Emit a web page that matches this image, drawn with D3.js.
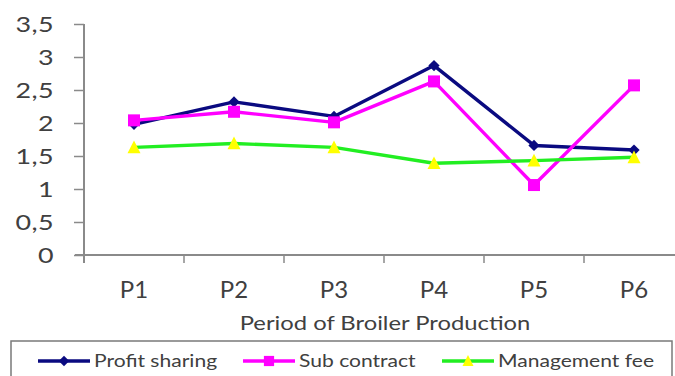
<!DOCTYPE html>
<html>
<head>
<meta charset="utf-8">
<script src="https://cdn.jsdelivr.net/npm/d3@7/dist/d3.min.js"></script>
<style>
  html, body { margin: 0; padding: 0; background: #fff; }
  svg { display: block; font-family: Lato, "Open Sans", sans-serif; }
</style>
</head>
<body>
<svg id="chart" width="675" height="376"></svg>
<script>
// Broiler production periods and the three partnership schemes
const periods = ["P1", "P2", "P3", "P4", "P5", "P6"];
const profitSharing = [1.98, 2.32, 2.10, 2.87, 1.66, 1.59];
const subContract = [2.04, 2.17, 2.01, 2.63, 1.06, 2.57];
const managementFee = [1.63, 1.69, 1.63, 1.39, 1.43, 1.48];
const yTicks = [0, 0.5, 1, 1.5, 2, 2.5, 3, 3.5];
const xTitle = "Period of Broiler Production";

const series = [
  { name: "Profit sharing", values: profitSharing, line: "#0a0a80", marker: "diamond", fill: "#0a0a80" },
  { name: "Sub contract", values: subContract, line: "#ff00ff", marker: "square", fill: "#ff00ff" },
  { name: "Management fee", values: managementFee, line: "#22ee22", marker: "triangle", fill: "#ffff00" }
];

const svg = d3.select("#chart");
const axisColor = "#8a8a8a";
const textColor = "#404040";

// text drawn with a slight horizontal stretch
function wideText(parent, px, py, str, size, sx, anchor, spacing) {
  return parent.append("text")
    .attr("transform", `translate(${px},${py}) scale(${sx},1)`)
    .attr("text-anchor", anchor).attr("fill", textColor)
    .attr("font-size", size).attr("letter-spacing", spacing || 0)
    .text(str);
}

const x = d3.scaleBand().domain(periods).range([84, 684]).padding(0);
const y = d3.scaleLinear().domain([0, 3.5]).range([255, 24]);

// y axis
const yAxis = svg.append("g").attr("transform", "translate(84,0)")
  .call(d3.axisLeft(y).tickValues(yTicks).tickSize(10).tickFormat(""));
yAxis.select(".domain").attr("d", "M0,24V263").attr("stroke", axisColor).attr("stroke-width", 2);
yAxis.selectAll(".tick line").attr("stroke", axisColor).attr("stroke-width", 1.5);
yTicks.forEach(v => {
  wideText(svg, 54, y(v) + 7.5, String(v).replace(".", ","), 21, 1.28, "end", 0.3);
});

// x axis: ticks at band boundaries
const xAxis = svg.append("g").attr("transform", "translate(0,255)");
xAxis.append("line").attr("x1", 75).attr("x2", 675).attr("y1", 0).attr("y2", 0)
  .attr("stroke", axisColor).attr("stroke-width", 2);
xAxis.selectAll("line.tk").data(periods.slice(1)).join("line").attr("class", "tk")
  .attr("x1", d => x(d)).attr("x2", d => x(d)).attr("y1", 0).attr("y2", 8)
  .attr("stroke", axisColor).attr("stroke-width", 1.5);
xAxis.selectAll("text").data(periods).join("text")
  .attr("x", d => x(d) + x.bandwidth() / 2).attr("y", 43)
  .attr("text-anchor", "middle").attr("fill", textColor).attr("font-size", 24)
  .text(d => d);

wideText(svg, 385, 330, xTitle, 20, 1.19, "middle");

// markers
function marker(g, type, fill, size) {
  if (type === "diamond") {
    g.append("path").attr("d", d3.symbol(d3.symbolDiamond2, size * 9)())
      .attr("fill", fill);
  } else if (type === "square") {
    g.append("rect").attr("x", -size / 2).attr("y", -size / 2)
      .attr("width", size).attr("height", size).attr("fill", fill);
  } else {
    const h = size * 0.9;
    g.append("path").attr("d", `M0,${-h / 2 - 1}L${size / 2},${h / 2}L${-size / 2},${h / 2}Z`)
      .attr("fill", fill);
  }
}
const markerSize = { diamond: 9, square: 12, triangle: 13 };

const line = d3.line().x((d, i) => x(periods[i]) + x.bandwidth() / 2).y(d => y(d));

series.forEach(s => {
  svg.append("path").datum(s.values).attr("d", line)
    .attr("fill", "none").attr("stroke", s.line).attr("stroke-width", 3.4)
    .attr("stroke-linejoin", "round");
});
series.forEach(s => {
  s.values.forEach((v, i) => {
    const g = svg.append("g")
      .attr("transform", `translate(${x(periods[i]) + x.bandwidth() / 2},${y(v)})`);
    marker(g, s.marker, s.fill, markerSize[s.marker]);
  });
});

// legend
svg.append("rect").attr("x", 11).attr("y", 341).attr("width", 661).attr("height", 40)
  .attr("fill", "#fff").attr("stroke", "#7a7a7a").attr("stroke-width", 1.5);
const legendX = [38, 243, 442];
series.forEach((s, i) => {
  const g = svg.append("g").attr("transform", `translate(${legendX[i]},361)`);
  g.append("line").attr("x1", 0).attr("x2", 52).attr("stroke", s.line).attr("stroke-width", 3.4);
  const m = g.append("g").attr("transform", "translate(26,0)");
  marker(m, s.marker, s.fill, markerSize[s.marker] * 0.85);
  wideText(g, 56, 6, s.name, 17, 1.24, "start");
});
</script>
</body>
</html>
